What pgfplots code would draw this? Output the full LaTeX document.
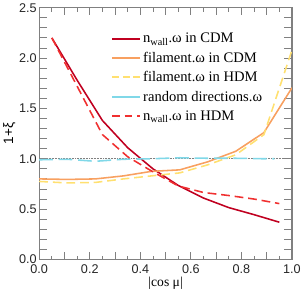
\documentclass[border=0pt]{standalone}
\usepackage{fontspec}
\setmainfont{Liberation Serif}
\newfontfamily\sansf{Liberation Sans}
\usepackage{pgfplots}
\pgfplotsset{compat=1.18}
\definecolor{cdmred}{RGB}{192,0,32}
\definecolor{hdmred}{RGB}{240,48,48}
\definecolor{filorange}{RGB}{248,160,96}
\definecolor{filyellow}{RGB}{255,224,112}
\definecolor{randcyan}{RGB}{128,216,232}
\begin{document}
\begin{tikzpicture}
\begin{axis}[
  scale only axis, width=260pt, height=259pt,
  xmin=0, xmax=1, ymin=0, ymax=2.5,
  xtick={0,0.1,0.2,0.3,0.4,0.5,0.6,0.7,0.8,0.9,1},
  xticklabels={0.0,,0.2,,0.4,,0.6,,0.8,,1.0},
  minor x tick num=1,
  ytick={0,0.1,0.2,0.3,0.4,0.5,0.6,0.7,0.8,0.9,1.0,1.1,1.2,1.3,1.4,1.5,1.6,1.7,1.8,1.9,2.0,2.1,2.2,2.3,2.4,2.5},
  yticklabels={0.0,,,,,0.5,,,,,1.0,,,,,1.5,,,,,2.0,,,,,2.5},
  tick align=inside, ticks=both,
  major tick length=8pt, minor tick length=4pt,
  axis line style={gray, line width=1.3pt},
  tick style={gray, line width=0.9pt},
  /pgf/number format/assume math mode=true,
  ticklabel style={font=\sansf\fontsize{13}{14}\selectfont, text=black!85},
  xticklabel style={yshift=-2pt},
  yticklabel style={xshift=1pt},
  xlabel={|cos μ|},
  xlabel style={font=\fontsize{14}{15}\selectfont, yshift=4pt},
  ylabel={1+ξ},
  ylabel style={font=\sansf\fontsize{14}{15}\selectfont, yshift=-3pt},
  legend style={draw=none, fill=none, at={(0.272,0.915)}, anchor=north west,
    font=\fontsize{15}{16}\selectfont, row sep=4pt, legend cell align=left},
  legend image code/.code={\draw[#1] (0pt,0pt) -- (29pt,0pt);},
]
\addlegendimage{cdmred, line width=2pt}
\addlegendentry{n\textsubscript{wall}.ω in CDM}
\addlegendimage{filorange, line width=2pt}
\addlegendentry{filament.ω in CDM}
\addlegendimage{filyellow, line width=2pt, dash pattern=on 7pt off 4pt}
\addlegendentry{filament.ω in HDM}
\addlegendimage{randcyan, line width=2pt}
\addlegendentry{random directions.ω}
\addlegendimage{hdmred, line width=2pt, dash pattern=on 8pt off 5pt}
\addlegendentry{n\textsubscript{wall}.ω in HDM}
\addplot[gray, densely dotted, line width=0.6pt, forget plot] coordinates {(0,1) (1,1)};
\addplot[cdmred, line width=1.6pt, forget plot] coordinates {
 (0.05,2.20) (0.15,1.78) (0.25,1.38) (0.35,1.11) (0.45,0.90)
 (0.55,0.735) (0.65,0.61) (0.75,0.515) (0.85,0.445) (0.95,0.37)};
\addplot[filorange, line width=1.6pt, forget plot] coordinates {
 (0,0.80) (0.111,0.795) (0.222,0.80) (0.333,0.83) (0.444,0.875)
 (0.556,0.89) (0.667,0.97) (0.778,1.075) (0.889,1.26) (1.0,1.705)};
\addplot[filyellow, line width=1.6pt, dash pattern=on 9pt off 5pt, forget plot] coordinates {
 (0,0.775) (0.111,0.76) (0.222,0.765) (0.333,0.80) (0.444,0.83)
 (0.556,0.86) (0.667,0.94) (0.778,1.04) (0.889,1.24) (1.0,2.08)};
\addplot[randcyan, line width=1.6pt, dash pattern=on 14pt off 6pt, forget plot] coordinates {
 (0,0.99) (0.111,0.995) (0.222,0.975) (0.333,0.995) (0.444,1.0)
 (0.556,1.01) (0.667,1.005) (0.778,1.005) (0.889,1.0) (0.93,1.0)};
\addplot[hdmred, line width=1.6pt, dash pattern=on 9pt off 5pt, forget plot] coordinates {
 (0.05,2.20) (0.15,1.72) (0.25,1.24) (0.35,1.02) (0.45,0.87)
 (0.55,0.73) (0.65,0.665) (0.75,0.635) (0.85,0.60) (0.95,0.555)};
\end{axis}
\end{tikzpicture}
\end{document}
